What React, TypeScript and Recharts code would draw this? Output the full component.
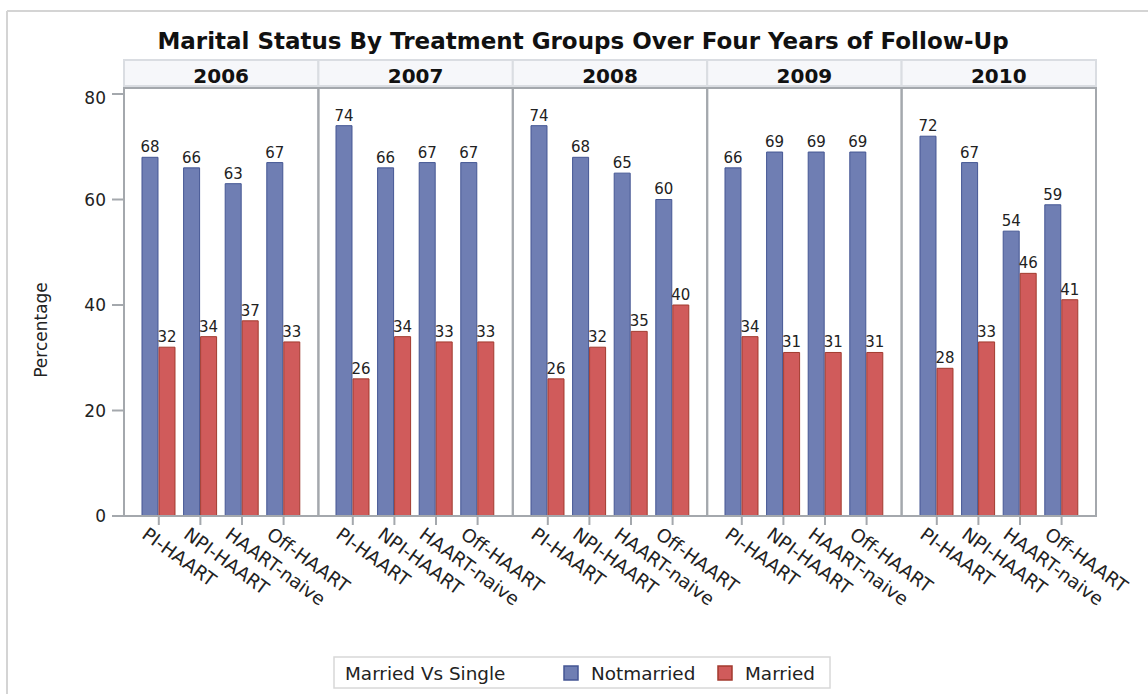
import React from 'react';
import { BarChart, Bar, XAxis, YAxis, LabelList } from 'recharts';

const years = ['2006', '2007', '2008', '2009', '2010'];
const groups = ['PI-HAART', 'NPI-HAART', 'HAART-naive', 'Off-HAART'];

// percentages per year, one row per year, in the order of `groups`
const notMarried = [
  [68, 66, 63, 67],
  [74, 66, 67, 67],
  [74, 68, 65, 60],
  [66, 69, 69, 69],
  [72, 67, 54, 59],
];
const married = [
  [32, 34, 37, 33],
  [26, 34, 33, 33],
  [26, 32, 35, 40],
  [34, 31, 31, 31],
  [28, 33, 46, 41],
];
const yTicks = [0, 20, 40, 60, 80];

const series = [
  { key: 'notmarried', name: 'Notmarried', fill: '#6F7EB3', stroke: '#445694' },
  { key: 'married', name: 'Married', fill: '#D05B5B', stroke: '#A23A2E' },
];

const W = 1148;
const H = 694;
const PLOT_LEFT = 124;
const PLOT_RIGHT = 1096;
const PLOT_TOP = 88;
const PLOT_BOTTOM = 516;
const PLOT_H = PLOT_BOTTOM - PLOT_TOP;
const PANEL_W = (PLOT_RIGHT - PLOT_LEFT) / years.length;
const AXIS_H = 110;
const Y_AXIS_W = 70;
// 80 sits a few px below the frame top
const Y_MAX = (80 * PLOT_H) / (PLOT_BOTTOM - 94);

const FONT = '"DejaVu Sans", Verdana, sans-serif';
const FRAME = '#a4a8ad';

const panels = years.map((year, i) => ({
  year,
  rows: groups.map((g, j) => ({
    group: g,
    notmarried: notMarried[i][j],
    married: married[i][j],
  })),
}));

function GroupTick({ x, y, payload }: any) {
  return (
    <g transform={`translate(${x - 18},${y + 10}) rotate(36)`}>
      <text x={0} y={0} textAnchor="start" fontSize={18.5} fill="#222" fontFamily={FONT}>
        {payload.value}
      </text>
    </g>
  );
}

function Panel({ index }: { index: number }) {
  const first = index === 0;
  const p = panels[index];
  const left = PLOT_LEFT + index * PANEL_W - (first ? Y_AXIS_W : 0);
  return (
    <div style={{ position: 'absolute', left, top: PLOT_TOP }}>
      <BarChart
        width={PANEL_W + (first ? Y_AXIS_W : 0)}
        height={PLOT_H + AXIS_H}
        data={p.rows}
        margin={{ top: 0, right: 0, bottom: 0, left: 0 }}
        barSize={16}
        barGap={1}
      >
        <XAxis
          dataKey="group"
          interval={0}
          height={AXIS_H}
          padding={{ left: 14, right: 14 }}
          axisLine={false}
          tickSize={9}
          tickLine={{ stroke: FRAME, strokeWidth: 2 }}
          tick={<GroupTick />}
        />
        <YAxis
          hide={!first}
          width={Y_AXIS_W}
          domain={[0, Y_MAX]}
          ticks={yTicks}
          axisLine={false}
          tickSize={12}
          tickMargin={6}
          tickLine={{ stroke: FRAME, strokeWidth: 2 }}
          tick={{ fontSize: 17, fill: '#222', fontFamily: FONT }}
        />
        {series.map((s) => (
          <Bar
            key={s.key}
            dataKey={s.key}
            name={s.name}
            fill={s.fill}
            stroke={s.stroke}
            strokeWidth={1}
            isAnimationActive={false}
          >
            <LabelList
              dataKey={s.key}
              position="top"
              offset={5}
              style={{ fontSize: 15, fill: '#222', fontFamily: FONT }}
            />
          </Bar>
        ))}
      </BarChart>
    </div>
  );
}

export default function App() {
  const legendTop = 657;
  return (
    <div
      style={{
        position: 'fixed',
        left: 0,
        top: 0,
        width: W,
        height: H,
        background: '#fff',
        overflow: 'hidden',
        fontFamily: FONT,
      }}
    >
      <style>{'.recharts-surface { overflow: visible; }'}</style>
      <svg width={W} height={H} style={{ position: 'absolute', left: 0, top: 0 }}>
        {/* outer frame */}
        <line x1={7} y1={11} x2={W} y2={11} stroke="#d4d4d4" strokeWidth={2} />
        <line x1={7} y1={11} x2={7} y2={H} stroke="#d4d4d4" strokeWidth={2} />
        <text x={583} y={49} textAnchor="middle" fontSize={23} fontWeight="bold" fill="#111" fontFamily={FONT}>
          Marital Status By Treatment Groups Over Four Years of Follow-Up
        </text>
        {/* year headers */}
        {years.map((y, i) => (
          <g key={y}>
            <rect
              x={PLOT_LEFT + i * PANEL_W}
              y={60}
              width={PANEL_W}
              height={26}
              fill="#f6f7fa"
              stroke="#dadde2"
              strokeWidth={2}
            />
            <text
              x={PLOT_LEFT + (i + 0.5) * PANEL_W}
              y={83}
              textAnchor="middle"
              fontSize={20}
              fontWeight="bold"
              fill="#111"
              fontFamily={FONT}
            >
              {y}
            </text>
          </g>
        ))}
        <text
          transform="translate(47,330) rotate(-90)"
          textAnchor="middle"
          fontSize={17}
          fill="#222"
          fontFamily={FONT}
        >
          Percentage
        </text>
        {/* legend */}
        <rect x={334} y={legendTop} width={496} height={31} fill="#fff" stroke="#d8d8d8" strokeWidth={1.5} />
        <text x={345} y={legendTop + 23} fontSize={18.4} fill="#222" fontFamily={FONT}>
          Married Vs Single
        </text>
        {series.map((s, i) => {
          const x0 = i === 0 ? 564 : 718;
          return (
            <g key={s.key}>
              <rect x={x0} y={legendTop + 9} width={14} height={14} fill={s.fill} stroke={s.stroke} strokeWidth={1.5} />
              <text x={x0 + 27} y={legendTop + 23} fontSize={18.4} fill="#222" fontFamily={FONT}>
                {s.name}
              </text>
            </g>
          );
        })}
      </svg>
      {panels.map((p, i) => (
        <Panel key={p.year} index={i} />
      ))}
      <svg width={W} height={H} style={{ position: 'absolute', left: 0, top: 0, pointerEvents: 'none' }}>
        {years.map((y, i) => (
          <rect
            key={y}
            x={PLOT_LEFT + i * PANEL_W}
            y={PLOT_TOP}
            width={PANEL_W}
            height={PLOT_H}
            fill="none"
            stroke={FRAME}
            strokeWidth={2}
          />
        ))}
      </svg>
    </div>
  );
}
